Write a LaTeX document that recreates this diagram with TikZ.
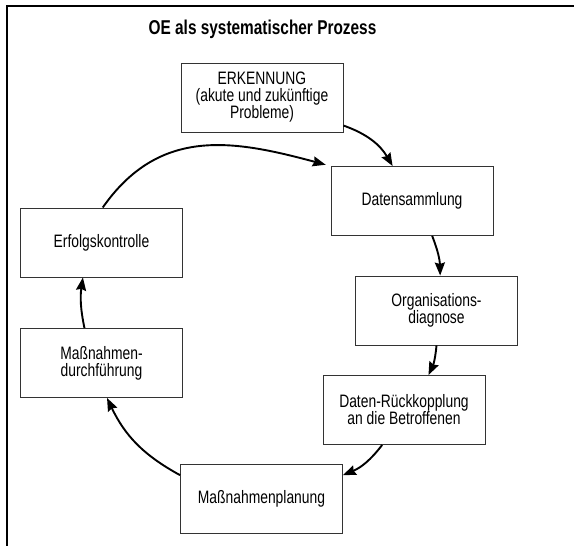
\documentclass[tikz,border=0pt]{standalone}
\usepackage{fontspec}
\setmainfont{Liberation Sans}[FakeStretch=0.77]
\usetikzlibrary{arrows.meta}

\begin{document}
\begin{tikzpicture}[x=1pt,y=1pt,
  stepbox/.style={draw=black!80, line width=0.9pt, minimum width=162pt, minimum height=69pt,
    align=center, inner sep=2pt, font=\fontsize{18}{17}\selectfont},
  flow/.style={line width=1.9pt, -{Stealth[length=13pt,width=10pt,inset=1.5pt]}}]
  \useasboundingbox (0,0) rectangle (574,546);

  %% frame
  \draw[line width=2.3pt] (7,0) -- (7,539.8) -- (574,539.8);
  \node[font=\bfseries\fontsize{20}{22}\selectfont] (title) at (262.5,517) {OE als systematischer Prozess};

  %% boxes
  \node[stepbox] (erk) at (262,448.5) {ERKENNUNG\\(akute und zukünftige\\Probleme)};
  \node[stepbox] (daten) at (412,345) {Datensammlung};
  \node[stepbox] (diag) at (436.5,235.5) {Organisations-\\diagnose};
  \node[stepbox] (rueck) at (404,136) {Daten-Rückkopplung\\an die Betroffenen};
  \node[stepbox] (plan) at (261.5,47.5) {Maßnahmenplanung};
  \node[stepbox] (durch) at (101.5,183) {Maßnahmen-\\durchführung};
  \node[stepbox] (erfolg) at (101.5,303.5) {Erfolgskontrolle};

  %% cycle
  \draw[flow] (erk.-19) to[bend left=20] (daten.119);
  \draw[flow] (daten.-60) to[bend left=10] (diag.84);
  \draw[flow] (diag.south) to[bend left=10] (rueck.55);
  \draw[flow] (rueck.-122) to[bend left=15] (plan.16);
  \draw[flow] (plan.164) to[bend left=18] (durch.-81);
  \draw[flow] (durch.116) to[bend left=10] (erfolg.-118);
  \draw[flow, shorten >=5pt] (erfolg.88) to[out=55, in=165, looseness=1.1] (daten.north west);

\end{tikzpicture}
\end{document}
